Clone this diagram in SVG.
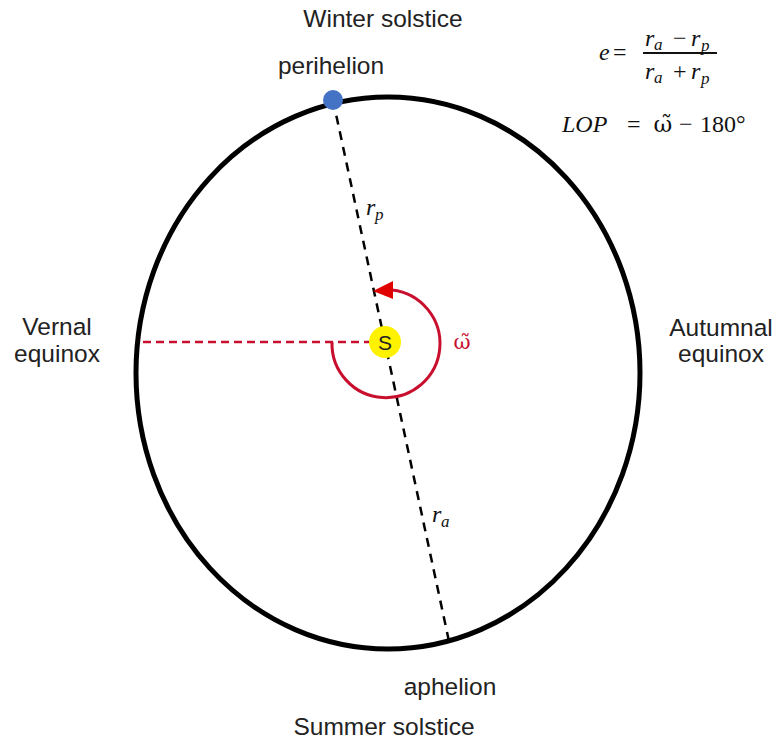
<svg xmlns="http://www.w3.org/2000/svg" width="778" height="742" viewBox="0 0 778 742">
<style>
.lbl{font-family:"Liberation Sans",Arial,sans-serif;font-size:24.5px;fill:#222}
.math{font-family:"Liberation Serif","DejaVu Serif",serif;font-size:24px;fill:#111}
.om{font-family:"DejaVu Serif",serif;font-size:21px}
.it{font-style:italic}
.sub{font-family:"Liberation Serif","DejaVu Serif",serif;font-size:17px;font-style:italic;fill:#111}
.red{fill:#c8102e}
</style>
<rect width="778" height="742" fill="#fff"/>
<g id="orbit"><ellipse cx="388" cy="373" rx="252" ry="276" fill="none" stroke="#000" stroke-width="5"/></g>
<g id="connectors">
<line x1="333" y1="100" x2="450" y2="646" stroke="#000" stroke-width="2.5" stroke-dasharray="9,7"/>
<line x1="143" y1="342" x2="369" y2="342" stroke="#c8102e" stroke-width="2.5" stroke-dasharray="8,5"/>
<path d="M332,342 A54,54 0 1 0 392,290" fill="none" stroke="#c8102e" stroke-width="3"/>
<path d="M373,291 L393,281 L393,299 z" fill="#e00000"/>
</g>
<g id="perihelion-dot"><circle cx="333" cy="100" r="10" fill="#4472c4"/></g>
<g id="sun"><circle cx="385" cy="342" r="16" fill="#fff200"/><text x="385" y="350" text-anchor="middle" class="lbl" style="font-size:21px">S</text></g>
<g id="labels">
<text x="383" y="27" text-anchor="middle" class="lbl">Winter solstice</text>
<text x="331" y="74" text-anchor="middle" class="lbl">perihelion</text>
<text x="57" y="335" text-anchor="middle" class="lbl">Vernal</text>
<text x="57" y="362" text-anchor="middle" class="lbl">equinox</text>
<text x="721" y="336" text-anchor="middle" class="lbl">Autumnal</text>
<text x="721" y="362" text-anchor="middle" class="lbl">equinox</text>
<text x="450" y="695" text-anchor="middle" class="lbl">aphelion</text>
<text x="384" y="735" text-anchor="middle" class="lbl">Summer solstice</text>
<text x="462" y="349" text-anchor="middle" class="om red">ω̃</text>
<text x="366" y="215" class="math it">r</text><text x="375" y="220" class="sub">p</text>
<text x="432" y="522" class="math it">r</text><text x="441" y="527" class="sub">a</text>
</g>
<g id="formulas">
<text x="599" y="60" class="math it">e</text>
<text x="613" y="60" class="math">=</text>
<text x="645" y="46" class="math it">r</text><text x="654" y="50" class="sub">a</text>
<text x="673" y="46" class="math">−</text>
<text x="691" y="46" class="math it">r</text><text x="701" y="51" class="sub">p</text>
<line x1="643" y1="53" x2="717" y2="53" stroke="#111" stroke-width="1.8"/>
<text x="645" y="79" class="math it">r</text><text x="654" y="83" class="sub">a</text>
<text x="673" y="79" class="math">+</text>
<text x="691" y="79" class="math it">r</text><text x="701" y="84" class="sub">p</text>
<text x="562" y="132" class="math it">LOP</text>
<text x="627" y="132" class="math">=</text>
<text x="663" y="132" text-anchor="middle" class="om" style="fill:#111;font-size:23px">ω̃</text>
<text x="679" y="132" class="math">−</text>
<text x="700" y="132" class="math">180°</text>
</g>
</svg>
